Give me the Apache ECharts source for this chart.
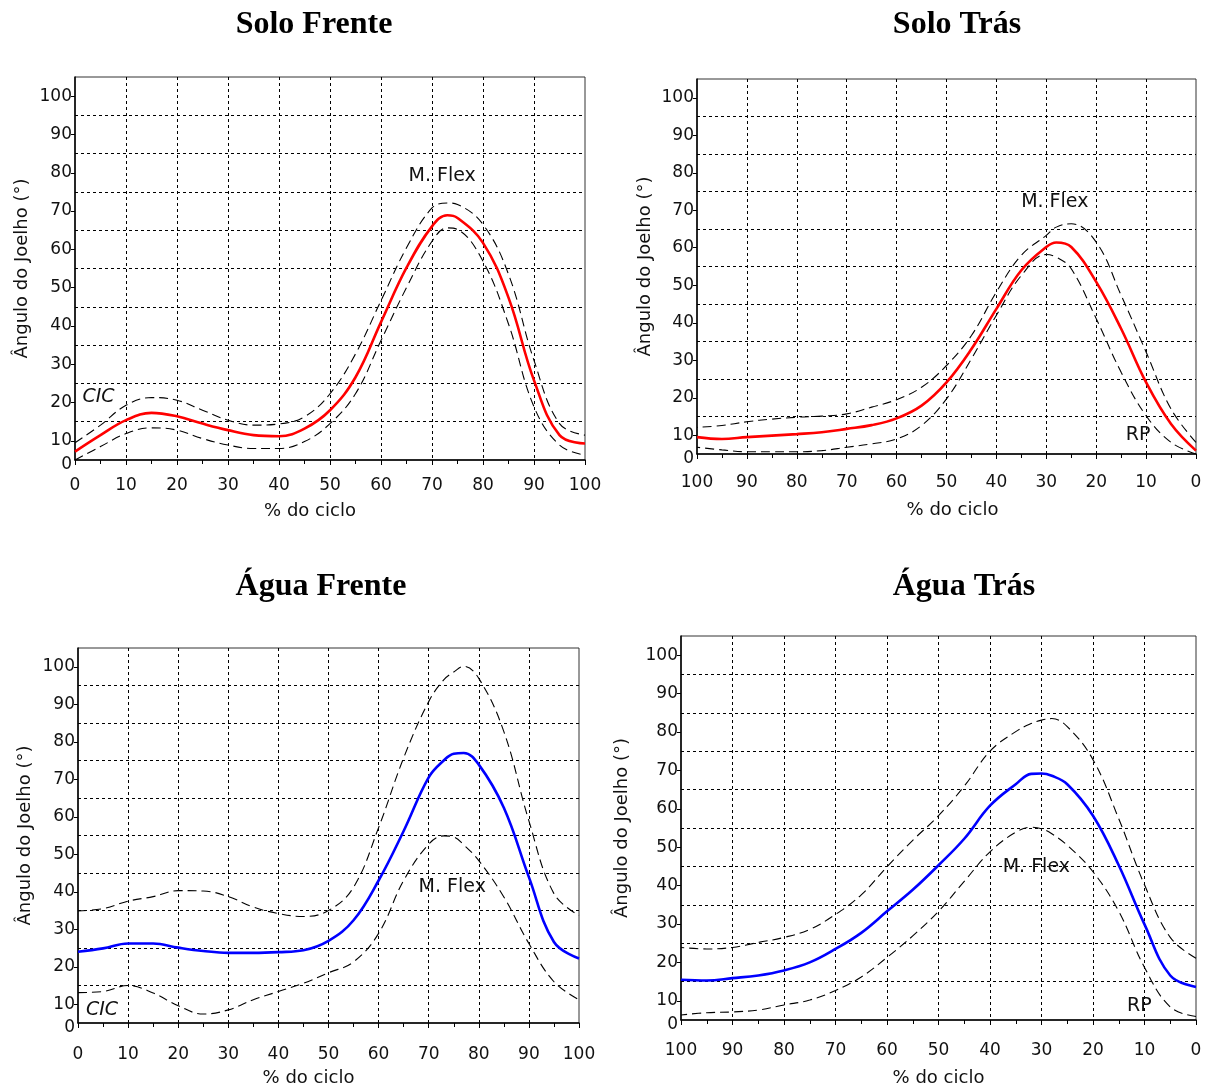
<!DOCTYPE html>
<html>
<head>
<meta charset="utf-8">
<script src="https://cdn.jsdelivr.net/npm/echarts@6/dist/echarts.min.js"></script>
<style>
html,body{margin:0;padding:0;background:#fff;}
#chart{width:1213px;height:1088px;}
</style>
</head>
<body>
<div id="chart"></div>
<script>
// ---------- data ----------
const panelTitles = ['Solo Frente', 'Solo Trás', 'Água Frente', 'Água Trás'];
const xAxisName = '% do ciclo';
const yAxisName = 'Ângulo do Joelho (°)';
const yTickValues = [5, 10, 20, 30, 40, 50, 60, 70, 80, 90, 100];
const yTickLabels = ['0', '10', '20', '30', '40', '50', '60', '70', '80', '90', '100'];

const soloFrenteX     = [0,5,10,15,20,25,30,35,40,45,50,55,60,65,70,73,75,80,85,90,95,100];
const soloFrenteMean  = [7.2,11.5,15.4,17.3,16.4,14.5,12.8,11.5,11.2,13.2,18,26.6,41,55.2,66,68.9,68.2,61.7,47.4,25.8,11.5,9.3];
const soloFrenteUpper = [9.5,14.1,19.3,21.3,20.6,18,15.4,14.1,14.4,16.3,22.3,32.7,46.6,60.4,70.8,72.1,71.7,66.5,53.5,31,14.5,11.5];
const soloFrenteLower = [5,8.5,11.9,13.4,12.8,10.6,8.9,8,8,9.8,14.5,22.3,36.2,50,62.1,65.6,65.2,56.9,40.5,18.9,8.9,6.3];

const soloTrasX     = [0,5,10,15,20,25,28,30,35,40,45,50,55,60,65,70,75,80,85,90,95,100];
const soloTrasMean  = [5.9,13,24.1,38.4,50.9,60.2,61.4,60.2,54,43.7,33,24.1,17.9,14.5,12.7,11.7,10.8,10.3,9.9,9.5,9.0,9.5];
const soloTrasUpper = [8.1,17,32.2,47.3,61.5,66.4,65.5,63.3,58,48.2,36.6,28.6,22.8,19.5,17.5,15.7,15.1,14.8,14.3,13.6,12.6,12.1];
const soloTrasLower = [5,8.1,15.2,26.8,41.1,54.4,57.5,58.2,52.6,42,30.4,19.7,12.6,9,7.7,6.8,5.9,5.6,5.6,5.6,6.1,6.8];

const aguaFrenteX     = [0,5,10,15,20,25,30,35,40,45,50,55,60,65,70,73,75,77,80,85,90,95,100];
const aguaFrenteMean  = [24,24.9,26.2,26.2,25.1,24.2,23.7,23.7,23.9,24.4,26.9,32.4,43,56.2,70.5,75,76.8,77,73.9,62.4,43.9,26.6,22.2];
const aguaFrenteUpper = [34.9,35.5,37.5,38.7,40.3,40.2,38.7,35.9,34.2,33.4,35,41.2,57.1,75.7,90.7,96.5,98.6,100.1,96.9,82.7,58.9,39.5,33.7];
const aguaFrenteLower = [13.1,13.4,15,13,9.6,7.4,8.5,11.2,13.4,15.6,18.4,21.3,28.9,43,52.7,54.9,54.6,52.5,48.3,38.6,26.2,16,11.2];

const aguaTrasX     = [0,5,10,15,20,25,28,30,32,35,40,45,50,55,60,65,70,75,80,85,90,95,100];
const aguaTrasMean  = [13.6,16.6,29.9,45.3,58.2,66.4,68.6,69.2,69.1,66.4,60.8,52.2,45.3,38.9,33.3,27.7,23.5,20,17.9,16.6,15.9,15.3,15.5];
const aguaTrasUpper = [21.1,26.5,40.2,57.4,72.8,81.4,83.5,83.1,82.2,80.1,75,65.9,58.2,51.8,44.9,37.6,32.5,28.6,26.5,25.2,23.9,23.5,23.9];
const aguaTrasLower = [5.9,8.4,18.7,33.3,43.6,50.5,53.5,54.8,55.2,53.9,48.8,41.1,33.3,26.9,21.3,16.2,12.7,10.2,8.9,7.6,7.1,6.9,6.3];

// annotations: [text, x, y, italic]
const soloFrenteNotes = [['M. Flex', 72, 79.2, false], ['CIC', 4.6, 21.4, true]];
const soloTrasNotes   = [['M. Flex', 28.3, 72.2, false], ['RP', 11.6, 10.1, false]];
const aguaFrenteNotes = [['M. Flex', 74.7, 41.2, false], ['CIC', 4.8, 8.5, true]];
const aguaTrasNotes   = [['M. Flex', 31, 44.9, false], ['RP', 11, 8.6, false]];

// ---------- layout / style ----------
const FONT = "'Comic Sans MS','DejaVu Sans',sans-serif";
const panels = [
  {x: soloFrenteX, mean: soloFrenteMean, up: soloFrenteUpper, lo: soloFrenteLower, color: '#ff0000', inverse: false, notes: soloFrenteNotes,
   grid: {left: 75, top: 77, width: 510, height: 383}, title: [314, 9], nameGapY: 44, nameGapX: 42, nameShift: 40, labelMargin: 17},
  {x: soloTrasX, mean: soloTrasMean, up: soloTrasUpper, lo: soloTrasLower, color: '#ff0000', inverse: true, notes: soloTrasNotes,
   grid: {left: 697, top: 79, width: 499, height: 375}, title: [957, 9], nameGapY: 43, nameGapX: 47, nameShift: -12, labelMargin: 20},
  {x: aguaFrenteX, mean: aguaFrenteMean, up: aguaFrenteUpper, lo: aguaFrenteLower, color: '#0000ff', inverse: false, notes: aguaFrenteNotes,
   grid: {left: 78, top: 648, width: 501, height: 376}, title: [321, 571], nameGapY: 44, nameGapX: 46, nameShift: 40, labelMargin: 23},
  {x: aguaTrasX, mean: aguaTrasMean, up: aguaTrasUpper, lo: aguaTrasLower, color: '#0000ff', inverse: true, notes: aguaTrasNotes,
   grid: {left: 681, top: 636, width: 515, height: 386}, title: [964, 571], nameGapY: 50, nameGapX: 49, nameShift: 0, labelMargin: 22}
];

const option = {
  backgroundColor: '#fff',
  animation: false,
  title: [], grid: [], xAxis: [], yAxis: [], series: []
};

function pairs(xs, ys) { return xs.map((x, i) => [x, ys[i]]); }

panels.forEach((p, i) => {
  option.title.push({
    text: panelTitles[i], left: p.title[0], top: p.title[1], textAlign: 'center', padding: 0,
    textStyle: {fontFamily: "'Liberation Serif','Times New Roman',serif", fontWeight: 'bold', fontSize: 32, color: '#000'}
  });
  option.grid.push(Object.assign({show: true, borderColor: '#333', borderWidth: 1, containLabel: false}, p.grid));
  const np = p.nameShift >= 0 ? [0, p.nameShift, 0, 0] : [0, 0, 0, -p.nameShift];
  option.xAxis.push({
    gridIndex: i, type: 'value', min: 0, max: 100, interval: 10, inverse: p.inverse,
    name: xAxisName, nameLocation: 'middle', nameGap: p.nameGapX,
    nameTextStyle: {fontFamily: FONT, fontSize: 18, color: '#111', padding: np},
    axisLine: {show: true, onZero: false, lineStyle: {color: '#000', width: 1.5}},
    axisTick: {show: true, length: 5, lineStyle: {color: '#000'}},
    minorTick: {show: true, splitNumber: 2, length: 4, lineStyle: {color: '#000'}},
    splitLine: {show: true, showMinLine: false, showMaxLine: false, lineStyle: {color: '#000', type: [3, 3], width: 1}},
    axisLabel: {fontFamily: FONT, fontSize: 17, color: '#111', margin: p.labelMargin}
  });
  // grid-line axis
  option.yAxis.push({
    gridIndex: i, type: 'value', min: 0, max: 100, interval: 10, position: 'left',
    axisLine: {show: false}, axisTick: {show: false}, axisLabel: {show: false},
    splitLine: {show: true, showMinLine: false, showMaxLine: false, lineStyle: {color: '#000', type: [3, 3], width: 1}}
  });
  // data / label axis
  option.yAxis.push({
    gridIndex: i, type: 'value', min: 5, max: 105, position: 'left',
    name: yAxisName, nameLocation: 'middle', nameGap: p.nameGapY, nameRotate: 90,
    nameTextStyle: {fontFamily: FONT, fontSize: 18, color: '#111'},
    axisLine: {show: true, onZero: false, lineStyle: {color: '#000', width: 1.5}},
    axisTick: {show: true, length: 4, customValues: yTickValues.slice(1), lineStyle: {color: '#000'}},
    splitLine: {show: false},
    axisLabel: {
      fontFamily: FONT, fontSize: 17, color: '#111', margin: 3,
      customValues: yTickValues,
      formatter: v => {
        const k = yTickValues.indexOf(v);
        if (k === 0) return '{z|' + yTickLabels[0] + '}';
        return k >= 0 ? yTickLabels[k] : '';
      },
      rich: {z: {fontFamily: FONT, fontSize: 17, color: '#111', padding: [10, 0, 0, 0]}}
    }
  });
  const yIdx = 2 * i + 1;
  const dash = {color: '#000', width: 1.1, type: [9, 5]};
  option.series.push({
    type: 'line', xAxisIndex: i, yAxisIndex: yIdx, data: pairs(p.x, p.up), smooth: 0.4,
    showSymbol: false, lineStyle: dash, silent: true
  });
  option.series.push({
    type: 'line', xAxisIndex: i, yAxisIndex: yIdx, data: pairs(p.x, p.lo), smooth: 0.4,
    showSymbol: false, lineStyle: dash, silent: true
  });
  option.series.push({
    type: 'line', xAxisIndex: i, yAxisIndex: yIdx, data: pairs(p.x, p.mean), smooth: 0.4,
    showSymbol: false, lineStyle: {color: p.color, width: 2.6}, silent: true, z: 5,
    markPoint: {
      symbol: 'circle', symbolSize: 1, silent: true,
      itemStyle: {color: 'rgba(0,0,0,0)'},
      data: p.notes.map(n => ({
        coord: [n[1], n[2]],
        label: {show: true, position: 'inside', formatter: n[0], fontFamily: FONT, fontSize: 19,
                fontStyle: n[3] ? 'italic' : 'normal', color: '#111'}
      }))
    }
  });
});

const chart = echarts.init(document.getElementById('chart'), null, {renderer: 'canvas'});
chart.setOption(option);
</script>
</body>
</html>
